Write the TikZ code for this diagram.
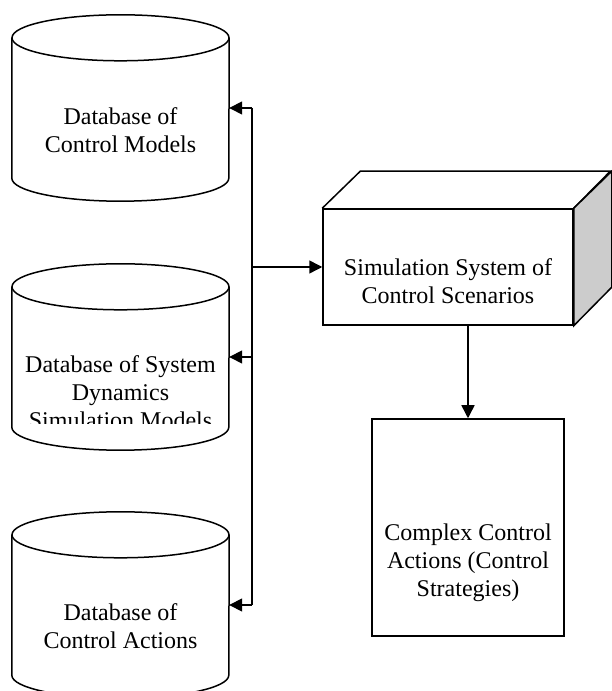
\documentclass[tikz,border=0pt]{standalone}
\usepackage{fontspec}
\setmainfont{Liberation Serif}
\usetikzlibrary{arrows.meta,positioning}

\tikzset{
  db/.style={minimum width=217pt,minimum height=140pt,inner sep=0pt},
  box/.style={draw,line width=1.5pt,inner sep=0pt},
  lbl/.style={align=center,font=\fontsize{24}{28}\selectfont},
  ln/.style={line width=1.5pt},
  arr/.style={line width=1.5pt,-{Triangle[length=13pt,width=13pt]}}
}

% outline of a database drum around the body node #1
\newcommand\dbshape[1]{%
  \draw[ln] (#1.north west) -- (#1.south west)
    arc[start angle=180,end angle=360,x radius=108.5pt,y radius=23pt] -- (#1.north east);
  \draw[ln] (#1.north) ellipse[x radius=108.5pt,y radius=23pt];
}

\begin{document}
\begin{tikzpicture}[x=1pt,y=1pt]
  \useasboundingbox (0,0) rectangle (611,691);

  % databases on the left
  \node[db] (models) at (120.5,583) {};
  \node[db] (sdmodels) at (120.5,334) {};
  \node[db] (actions) at (120.5,86) {};
  \dbshape{models}
  \dbshape{sdmodels}
  \dbshape{actions}

  \node[lbl] (tmodels) at (120.5,561) {Database of\\Control Models};
  \begin{scope}
    \clip (0,267) rectangle (611,691);
    \node[lbl] (tsdmodels) at (120.5,299) {Database of System\\Dynamics\\Simulation Models};
  \end{scope}
  \node[lbl] (tactions) at (120.5,65) {Database of\\Control Actions};

  % simulation system as a box in 3d
  \node[box,minimum width=250pt,minimum height=116pt] (sim) at (448,424) {};
  \draw[ln] (sim.north west) -- ++(38,37) -- ++(250,0) -- (sim.north east);
  \draw[ln,fill=gray!40] (sim.north east) -- ++(38,37) -- ++(0,-116) -- (sim.south east) -- cycle;
  \node[lbl] (tsim) at (448,410) {Simulation System of\\Control Scenarios};

  % resulting strategies
  \node[box,minimum width=192pt,minimum height=217pt] (strat) at (468,163.5) {};
  \node[lbl] (tstrat) at (468,128) {Complex Control\\Actions (Control\\Strategies)};

  % bus between databases and simulation
  \coordinate (btop) at (252,583);
  \coordinate (bmid) at (sim.west -| btop);
  \coordinate (bsd) at (252,334);
  \coordinate (bbot) at (252,86);
  \draw[ln] (btop) -- (bbot);
  \draw[arr] (btop) -- (models);
  \draw[arr] (bsd) -- (sdmodels);
  \draw[arr] (bbot) -- (actions);
  \draw[arr] (bmid) -- (sim);
  \draw[arr] (sim.south -| strat.north) -- (strat.north);
\end{tikzpicture}
\end{document}
